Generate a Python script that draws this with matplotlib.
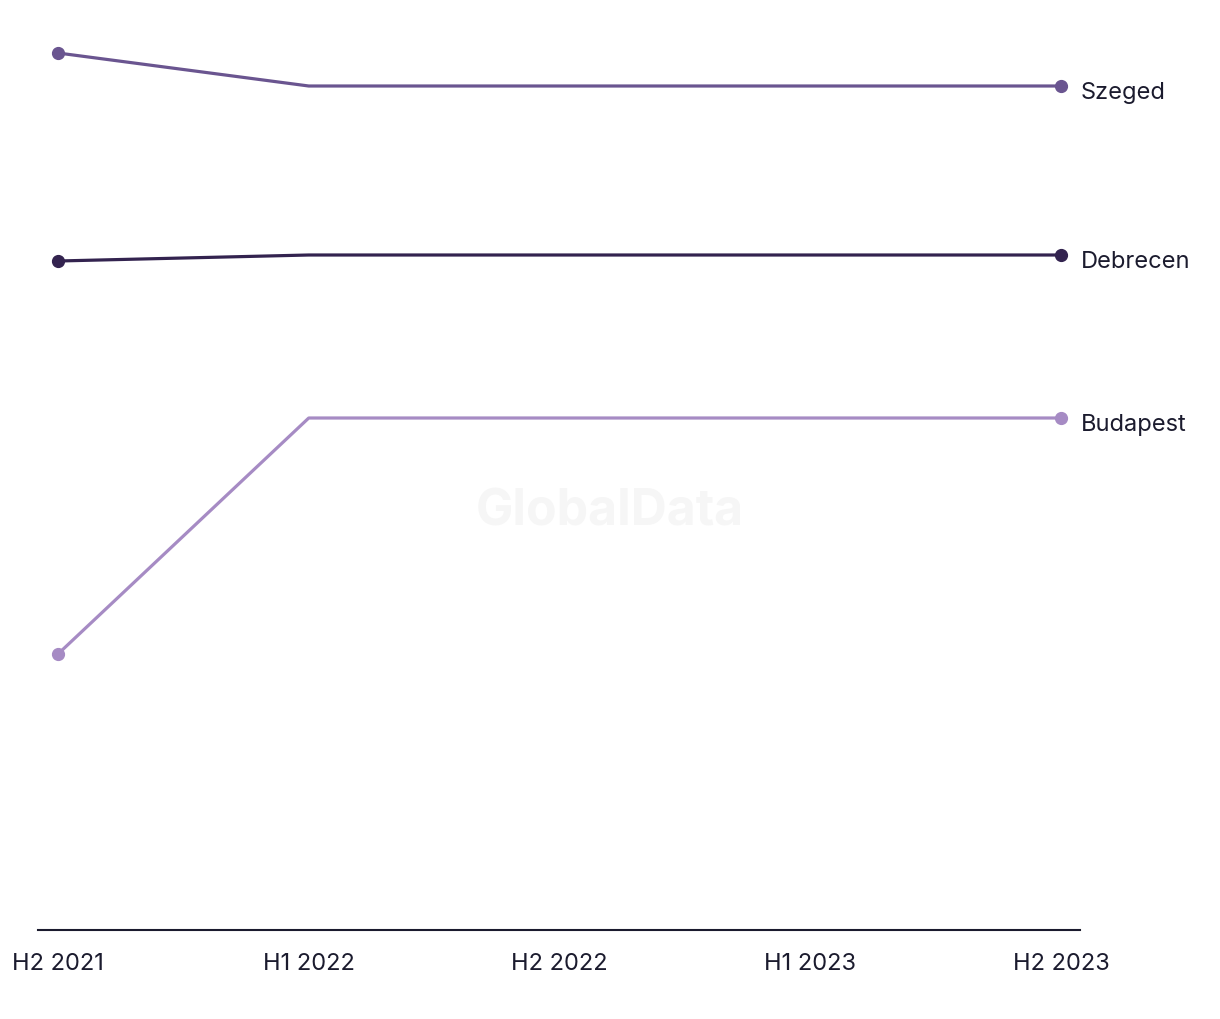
import matplotlib
matplotlib.use("Agg")
import matplotlib.pyplot as plt

periods = ["H2 2021", "H1 2022", "H2 2022", "H1 2023", "H2 2023"]
szeged = [87.7, 84.4, 84.4, 84.4, 84.4]
debrecen = [66.9, 67.5, 67.5, 67.5, 67.5]
budapest = [27.6, 51.2, 51.2, 51.2, 51.2]

series = [("Szeged", szeged, "#6a5590"), ("Debrecen", debrecen, "#33234f"), ("Budapest", budapest, "#a68bc4")]
text_color = "#1b1b2e"

plt.rcParams['font.family'] = ['Inter', 'DejaVu Sans']
fig = plt.figure(figsize=(12.2, 10.2), dpi=100)
ax = fig.add_axes([38/1220, 89/1020, 1042/1220, 910/1020])
x = list(range(len(periods)))
for name, vals, col in series:
    ax.plot(x, vals, color=col, lw=2.3, solid_capstyle='round', zorder=3)
    ax.plot([x[0], x[-1]], [vals[0], vals[-1]], 'o', color=col, ms=8.5, zorder=4)
    ax.annotate(name, (x[-1], vals[-1]), xytext=(14, -4), textcoords='offset points',
                ha='left', va='center', fontsize=17, color=text_color, annotation_clip=False)

ax.set_xlim(-20/250.75, 4 + 19/250.75)
ax.set_ylim(0, 91)
ax.set_xticks(x)
ax.set_xticklabels(periods, fontsize=17, color=text_color)
ax.tick_params(axis='x', length=0, pad=15.5)
ax.set_yticks([])
for s in ['top', 'right', 'left']:
    ax.spines[s].set_visible(False)
ax.spines['bottom'].set_color(text_color)
ax.spines['bottom'].set_linewidth(1.5)

fig.text(610/1220, 1 - 512/1020, "GlobalData", ha='center', va='center', fontsize=36,
         fontweight='bold', color='#f6f6f6', zorder=0)

fig.savefig("out.png", dpi=100, facecolor='white')
